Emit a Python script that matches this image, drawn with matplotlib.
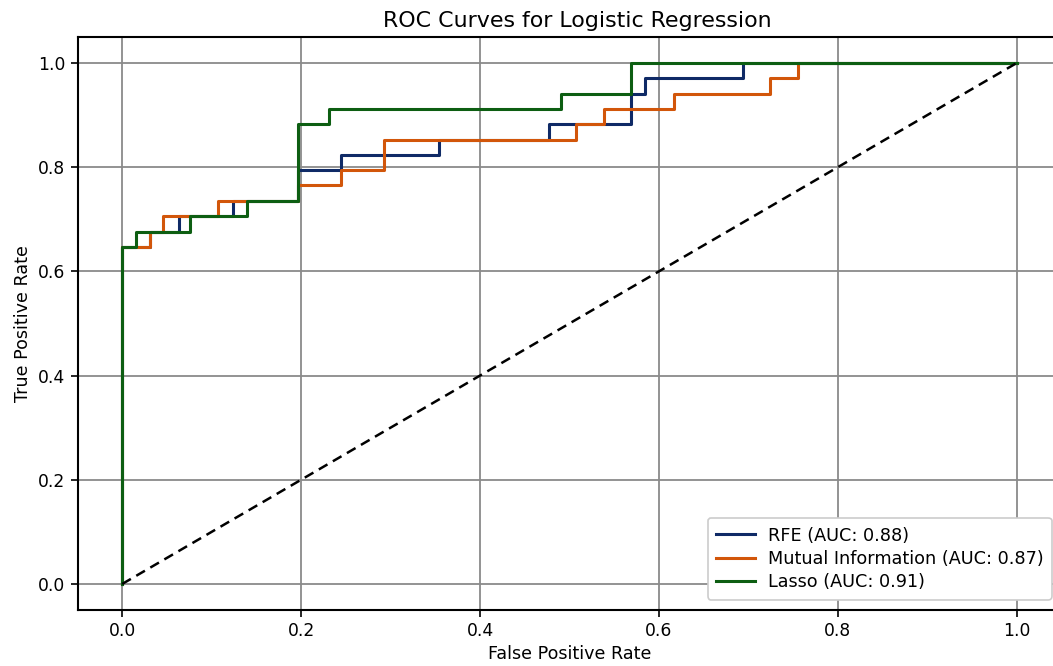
import matplotlib
matplotlib.use("Agg")
import matplotlib.pyplot as plt

# ROC curve corner points
rfe_fpr = [0, 0, 0.031, 0.031, 0.063, 0.063, 0.124, 0.124, 0.197, 0.197, 0.245, 0.245,
           0.354, 0.354, 0.477, 0.477, 0.569, 0.569, 0.585, 0.585, 0.694, 0.694, 1.0]
rfe_tpr = [0, 0.647, 0.647, 0.676, 0.676, 0.706, 0.706, 0.735, 0.735, 0.794, 0.794, 0.824,
           0.824, 0.853, 0.853, 0.882, 0.882, 0.941, 0.941, 0.971, 0.971, 1.0, 1.0]

mi_fpr = [0, 0, 0.031, 0.031, 0.046, 0.046, 0.107, 0.107, 0.197, 0.197, 0.245, 0.245,
          0.293, 0.293, 0.507, 0.507, 0.539, 0.539, 0.617, 0.617, 0.724, 0.724, 0.755, 0.755, 1.0]
mi_tpr = [0, 0.647, 0.647, 0.676, 0.676, 0.706, 0.706, 0.735, 0.735, 0.765, 0.765, 0.794,
          0.794, 0.853, 0.853, 0.882, 0.882, 0.912, 0.912, 0.941, 0.941, 0.971, 0.971, 1.0, 1.0]

lasso_fpr = [0, 0, 0.015, 0.015, 0.076, 0.076, 0.139, 0.139, 0.197, 0.197, 0.231, 0.231,
             0.49, 0.49, 0.569, 0.569, 1.0]
lasso_tpr = [0, 0.647, 0.647, 0.676, 0.676, 0.706, 0.706, 0.735, 0.735, 0.882, 0.882, 0.912,
             0.912, 0.941, 0.941, 1.0, 1.0]

labels = ["RFE (AUC: 0.88)", "Mutual Information (AUC: 0.87)", "Lasso (AUC: 0.91)"]
colors = ["#0f2a66", "#d2560a", "#0d5e12"]

diag = [0, 1]

fig = plt.figure(figsize=(10.53, 6.66), dpi=100)
ax = fig.add_axes([0.0736, 0.0841, 0.9344, 0.8604])

ax.plot(rfe_fpr, rfe_tpr, color=colors[0], lw=2.2, label=labels[0])
ax.plot(mi_fpr, mi_tpr, color=colors[1], lw=2.2, label=labels[1])
ax.plot(lasso_fpr, lasso_tpr, color=colors[2], lw=2.2, label=labels[2])
ax.plot(diag, diag, color="black", ls="--", lw=1.8, dashes=(4, 2.5))

ax.set_xlim(-0.05, 1.05)
ax.set_ylim(-0.05, 1.05)
ax.set_xticks([0, 0.2, 0.4, 0.6, 0.8, 1.0])
ax.set_yticks([0, 0.2, 0.4, 0.6, 0.8, 1.0])
ax.grid(True, color="#8a8a8a", lw=1.3)
ax.set_axisbelow(True)
for s in ax.spines.values():
    s.set_linewidth(1.5)
ax.spines["right"].set_visible(False)
ax.tick_params(labelsize=12.3, width=1.2, length=5, pad=4)

ax.set_title("ROC Curves for Logistic Regression", fontsize=15.9, pad=7, x=0.508)
ax.set_xlabel("False Positive Rate", fontsize=12.6, labelpad=3)
ax.set_ylabel("True Positive Rate", fontsize=12.6, labelpad=4)

leg = ax.legend(loc="lower right", fontsize=12.7, framealpha=1, edgecolor="#cccccc",
                handlelength=2.2, handletextpad=0.7, borderpad=0.5, labelspacing=0.3,
                borderaxespad=0, bbox_to_anchor=(0.9904, 0.0175))
leg.get_frame().set_linewidth(1.2)

fig.savefig("out.png", dpi=100)
